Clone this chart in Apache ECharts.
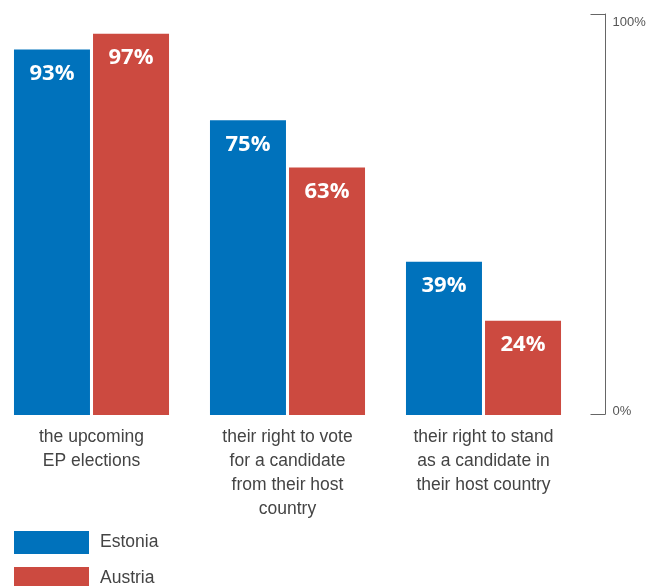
<!DOCTYPE html>
<html>
<head>
<meta charset="utf-8">
<script src="https://cdn.jsdelivr.net/npm/echarts@6/dist/echarts.min.js"></script>
<style>
  html, body { margin: 0; padding: 0; background: #fff; }
  #chart { width: 667px; height: 586px; }
</style>
</head>
<body>
<div id="chart"></div>
<script>
// data
var categories = [
    'the upcoming\nEP elections',
    'their right to vote\nfor a candidate\nfrom their host\ncountry',
    'their right to stand\nas a candidate in\ntheir host country'
];
var seriesNames = ['Estonia', 'Austria'];
var estonia = [93, 75, 39];
var austria = [97, 63, 24];
var axisTicks = [0, 100];

var chart = echarts.init(document.getElementById('chart'));
var textFont = 'Liberation Sans';

function barSeries(name, values, color) {
    return {
        type: 'bar',
        name: name,
        data: values,
        xAxisIndex: 0,
        yAxisIndex: 0,
        barWidth: 76,
        barGap: '4%',
        itemStyle: { color: color },
        label: {
            show: true,
            position: 'insideTop',
            distance: 13,
            formatter: '{c}%',
            color: '#fff',
            fontFamily: 'Open Sans',
            fontWeight: 'bold',
            fontSize: 22
        }
    };
}

// one legend per item so the second one may run past the bottom edge
function legendItem(name, top) {
    return {
        left: 14,
        top: top,
        padding: 0,
        itemWidth: 75,
        itemHeight: 23,
        icon: 'rect',
        textStyle: { fontFamily: textFont, fontSize: 17.5, color: '#444', padding: [0, 0, 0, 6] },
        data: [name]
    };
}

var option = {
    animation: false,
    legend: [
        legendItem(seriesNames[0], 531),
        legendItem(seriesNames[1], 567)
    ],
    grid: [
        { left: -6.5, width: 588, top: 22, bottom: 171, outerBoundsMode: 'none' },
        { left: 0, right: 61.5, top: 14, bottom: 172, outerBoundsMode: 'none' }
    ],
    xAxis: [
        {
            type: 'category',
            gridIndex: 0,
            data: categories,
            axisLine: { show: false },
            axisTick: { show: false },
            axisLabel: {
                margin: 10,
                interval: 0,
                fontFamily: textFont,
                fontSize: 17.5,
                lineHeight: 24,
                color: '#444'
            }
        },
        { type: 'value', gridIndex: 1, show: false }
    ],
    yAxis: [
        { type: 'value', gridIndex: 0, min: 0, max: 100, show: false },
        {
            type: 'value',
            gridIndex: 1,
            position: 'right',
            min: axisTicks[0],
            max: axisTicks[1],
            interval: 100,
            axisLine: { show: true, onZero: false, lineStyle: { color: '#666', width: 1 } },
            axisTick: { show: true, inside: true, length: 15, lineStyle: { color: '#666' } },
            splitLine: { show: false },
            axisLabel: {
                margin: 7,
                formatter: function (v) {
                    return v === axisTicks[1] ? '{hi|' + v + '%}' : '{lo|' + v + '%}';
                },
                rich: {
                    hi: { fontFamily: textFont, fontSize: 13, color: '#555', padding: [16, 0, 0, 0] },
                    lo: { fontFamily: textFont, fontSize: 13, color: '#555', padding: [0, 0, 6, 0] }
                }
            }
        }
    ],
    series: [
        barSeries(seriesNames[0], estonia, '#0072bc'),
        barSeries(seriesNames[1], austria, '#cc4a40')
    ]
};
chart.setOption(option);
</script>
</body>
</html>
